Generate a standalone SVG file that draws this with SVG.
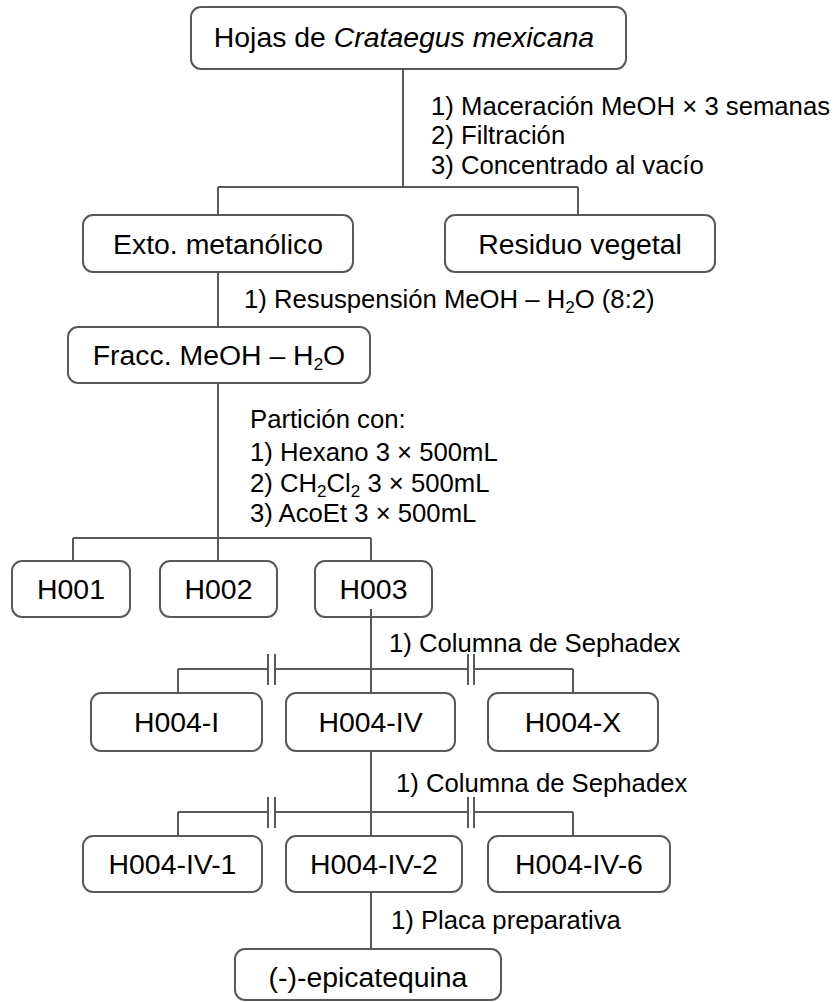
<svg xmlns="http://www.w3.org/2000/svg" width="839" height="1002" viewBox="0 0 839 1002">
<style>
.box{fill:#fff;stroke:#595959;stroke-width:2}
.ln{fill:none;stroke:#595959;stroke-width:2}
.nt{font-family:"Liberation Sans",Arial,sans-serif;font-size:28.4px;fill:#000;text-anchor:middle}
.an{font-family:"Liberation Sans",Arial,sans-serif;font-size:25.7px;fill:#000}
.sub{font-size:17px}
</style>
<rect width="839" height="1002" fill="#fff"/>
<g id="labels">
<text class="an" x="431" y="115">1) Maceración MeOH × 3 semanas</text>
<text class="an" x="431" y="144">2) Filtración</text>
<text class="an" x="431" y="174">3) Concentrado al vacío</text>
<text class="an" x="244" y="308">1) Resuspensión MeOH – H<tspan class="sub" dy="5">2</tspan><tspan dy="-5">O (8:2)</tspan></text>
<text class="an" x="250" y="428">Partición con:</text>
<text class="an" x="250" y="461">1) Hexano 3 × 500mL</text>
<text class="an" x="250" y="492">2) CH<tspan class="sub" dy="5">2</tspan><tspan dy="-5">Cl</tspan><tspan class="sub" dy="5">2</tspan><tspan dy="-5"> 3 × 500mL</tspan></text>
<text class="an" x="250" y="522">3) AcoEt 3 × 500mL</text>
<text class="an" x="389" y="652">1) Columna de Sephadex</text>
<text class="an" x="396" y="792">1) Columna de Sephadex</text>
<text class="an" x="391" y="929">1) Placa preparativa</text>
</g>
<g id="n-hojas"><rect class="box" x="191" y="7" width="435" height="62" rx="10"/><text class="nt" x="404" y="47">Hojas de <tspan font-style="italic">Crataegus mexicana</tspan></text></g>
<g id="n-exto"><rect class="box" x="83" y="215" width="270" height="57" rx="10"/><text class="nt" x="218" y="254">Exto. metanólico</text></g>
<g id="n-residuo"><rect class="box" x="445" y="215" width="270" height="57" rx="10"/><text class="nt" x="580" y="254">Residuo vegetal</text></g>
<g id="n-fracc"><rect class="box" x="68" y="327" width="302" height="56" rx="10"/><text class="nt" x="219" y="365">Fracc. MeOH – H<tspan class="sub" dy="5">2</tspan><tspan dy="-5">O</tspan></text></g>
<g id="n-h001"><rect class="box" x="12" y="561" width="118" height="56" rx="10"/><text class="nt" x="71" y="599">H001</text></g>
<g id="n-h002"><rect class="box" x="160" y="561" width="117" height="56" rx="10"/><text class="nt" x="218.5" y="599">H002</text></g>
<g id="n-h003"><rect class="box" x="315" y="561" width="117" height="56" rx="10"/><text class="nt" x="373.5" y="599">H003</text></g>
<g id="n-h004-i"><rect class="box" x="91" y="693" width="171" height="58" rx="10"/><text class="nt" x="176.5" y="732">H004-I</text></g>
<g id="n-h004-iv"><rect class="box" x="286" y="693" width="169" height="58" rx="10"/><text class="nt" x="370.5" y="732">H004-IV</text></g>
<g id="n-h004-x"><rect class="box" x="488" y="693" width="170" height="58" rx="10"/><text class="nt" x="573" y="732">H004-X</text></g>
<g id="n-h004-iv-1"><rect class="box" x="83" y="836" width="179" height="56" rx="10"/><text class="nt" x="172.5" y="874">H004-IV-1</text></g>
<g id="n-h004-iv-2"><rect class="box" x="286" y="836" width="176" height="56" rx="10"/><text class="nt" x="374" y="874">H004-IV-2</text></g>
<g id="n-h004-iv-6"><rect class="box" x="488" y="836" width="182" height="56" rx="10"/><text class="nt" x="579" y="874">H004-IV-6</text></g>
<g id="n-epicatequina"><rect class="box" x="235" y="949" width="266" height="51" rx="10"/><text class="nt" x="368" y="987">(-)-epicatequina</text></g>
<g id="connectors">
<path class="ln" d="M403 69V187M218 187H578M218 187V215M578 187V215"/>
<path class="ln" d="M218 272V327"/>
<path class="ln" d="M218 383V538M73 538H371M73 538V561M218 538V561M371 538V561"/>
<path class="ln" d="M371 609V693M178 669H268M275 669H468M474 669H573M178 669V693M573 669V693M268 654V685M275 654V685M468 654V685M474 654V685"/>
<path class="ln" d="M371 751V836M178 812H268M275 812H468M474 812H573M178 812V836M573 812V836M268 797V828M275 797V828M468 797V828M474 797V828"/>
<path class="ln" d="M371 892V949"/>
</g>
</svg>
